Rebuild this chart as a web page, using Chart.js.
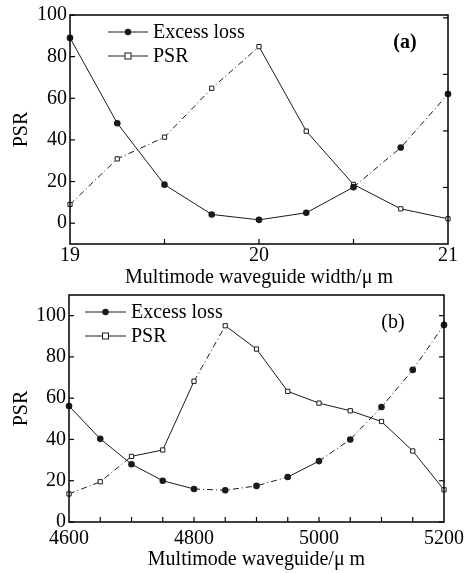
<!DOCTYPE html>
<html>
<head>
<meta charset="utf-8">
<script src="https://cdn.jsdelivr.net/npm/chart.js@4.4.1/dist/chart.umd.min.js"></script>
<style>
  html, body { margin: 0; padding: 0; background: #fff; }
  #wrap { position: relative; width: 469px; height: 573px; }
  .panel { position: absolute; left: 0; width: 469px; }
  #panelA { top: 0; height: 290px; }
  #panelB { top: 290px; height: 283px; }
</style>
</head>
<body>
<div id="wrap">
  <div class="panel" id="panelA"><canvas id="chartA"></canvas></div>
  <div class="panel" id="panelB"><canvas id="chartB"></canvas></div>
</div>
<script>
// ---- (a) multimode waveguide width sweep ----
const widthA = [19, 19.25, 19.5, 19.75, 20, 20.25, 20.5, 20.75, 21];
const lossA = [89, 48, 18.5, 4.2, 1.6, 5, 17.3, 36.3, 62];
const psrA = [9, 30.9, 41.3, 64.8, 84.8, 44.2, 18.6, 6.9, 2.1];
const xTicksA = [19, 20, 21];
const xMarksA = [19.5, 20, 20.5];
const yTicksA = [0, 20, 40, 60, 80, 100];
const rightMarksA = [1, 2, 3, 4];

// ---- (b) multimode waveguide length sweep ----
const lengthB = [4600, 4650, 4700, 4750, 4800, 4850, 4900, 4950, 5000, 5050, 5100, 5150, 5200];
const lossB = [56.2, 40.3, 28, 20, 16, 15.4, 17.5, 21.8, 29.5, 40, 55.7, 73.7, 95.5];
const psrB = [13.6, 19.5, 31.8, 34.9, 68.2, 95.1, 83.8, 63.3, 57.6, 53.9, 48.7, 34.4, 15.6];
const xTicksB = [4600, 4800, 5000, 5200];
const xMarksB = [4650, 4700, 4750, 4800, 4850, 4900, 4950, 5000, 5050, 5100, 5150];
const yTicksB = [0, 20, 40, 60, 80, 100];

const SERIF = "'Liberation Serif', 'Times New Roman', serif";
const INK = "#1a1a1a";
const dashDot = [6, 3, 1, 3];

Chart.defaults.color = "#000";
Chart.defaults.font.family = SERIF;

// segments drawn broken in the scan
const brokenLossA = [6, 7];
const brokenPsrA = [0, 1, 2, 3];
const brokenLossB = [4, 5, 6, 8, 9, 10, 11];
const brokenPsrB = [0, 1, 4];

const segDash = (idx) => ({
  borderDash: (ctx) => (idx.includes(ctx.p0DataIndex) ? dashDot : undefined),
});

const toXY = (xs, ys) => xs.map((x, i) => ({ x: x, y: ys[i] }));

// frame + inward tick marks + legend drawn inside the plot area
const framePlugin = {
  id: "frame",
  afterDraw(chart, args, opts) {
    const ctx = chart.ctx;
    const a = chart.chartArea;
    ctx.save();
    ctx.strokeStyle = "#000";
    ctx.lineWidth = 1.5;
    ctx.strokeRect(a.left, a.top, a.right - a.left, a.bottom - a.top);

    ctx.lineWidth = 1.2;
    (opts.marks || []).forEach((m) => {
      const s = chart.scales[m.axis];
      m.values.forEach((v) => {
        const p = s.getPixelForValue(v);
        ctx.beginPath();
        if (m.side === "bottom") {
          ctx.moveTo(p, a.bottom);
          ctx.lineTo(p, a.bottom - 5);
        } else if (m.side === "left") {
          ctx.moveTo(a.left, p);
          ctx.lineTo(a.left + 5, p);
        } else {
          ctx.moveTo(a.right, p);
          ctx.lineTo(a.right - 5, p);
        }
        ctx.stroke();
      });
    });

    // legend
    const lg = opts.legend;
    if (lg) {
      ctx.font = "20px " + SERIF;
      ctx.textBaseline = "middle";
      ctx.textAlign = "left";
      lg.items.forEach((it, i) => {
        const ds = chart.data.datasets[it.dataset];
        const y = lg.y + i * lg.gap;
        ctx.strokeStyle = INK;
        ctx.lineWidth = 1;
        ctx.beginPath();
        ctx.moveTo(lg.x, y);
        ctx.lineTo(lg.x + lg.len, y);
        ctx.stroke();
        const mx = lg.x + lg.len / 2;
        if (ds.pointStyle === "rect") {
          ctx.fillStyle = "#fff";
          ctx.fillRect(mx - 3, y - 3, 6, 6);
          ctx.strokeRect(mx - 3, y - 3, 6, 6);
        } else {
          ctx.fillStyle = INK;
          ctx.beginPath();
          ctx.arc(mx, y, 3.2, 0, Math.PI * 2);
          ctx.fill();
        }
        ctx.fillStyle = "#000";
        ctx.fillText(ds.label, lg.x + lg.len + 5, y + 1);
      });
    }

    if (opts.tag) {
      ctx.font = opts.tag.font + " " + SERIF;
      ctx.fillStyle = "#000";
      ctx.textAlign = "center";
      ctx.textBaseline = "middle";
      ctx.fillText(opts.tag.text, opts.tag.x, opts.tag.y);
    }
    ctx.restore();
  },
};

function lossSet(xs, ys, broken) {
  return {
    label: "Excess loss",
    data: toXY(xs, ys),
    borderColor: INK,
    borderWidth: 1,
    pointStyle: "circle",
    pointRadius: 3.3,
    pointBackgroundColor: INK,
    pointBorderColor: INK,
    pointBorderWidth: 0,
    segment: segDash(broken),
    clip: false,
  };
}

function psrSet(xs, ys, broken) {
  return {
    label: "PSR",
    data: toXY(xs, ys),
    borderColor: INK,
    borderWidth: 1,
    pointStyle: "rect",
    pointRadius: 3,
    pointBackgroundColor: "#fff",
    pointBorderColor: INK,
    pointBorderWidth: 1,
    segment: segDash(broken),
    clip: false,
  };
}

function buildChart(canvasId, cfg) {
  return new Chart(document.getElementById(canvasId), {
    type: "line",
    data: { datasets: cfg.datasets },
    plugins: [framePlugin],
    options: {
      responsive: true,
      maintainAspectRatio: false,
      animation: false,
      devicePixelRatio: 1,
      layout: { padding: { top: cfg.top, right: 21, bottom: 0, left: 0 } },
      plugins: {
        legend: { display: false },
        tooltip: { enabled: false },
        frame: cfg.frame,
      },
      scales: {
        x: {
          type: "linear",
          min: cfg.xMin,
          max: cfg.xMax,
          afterBuildTicks: (s) => { s.ticks = cfg.xTicks.map((v) => ({ value: v })); },
          afterFit: (s) => { s.height = cfg.xHeight; },
          grid: { display: false, drawTicks: false },
          border: { display: false },
          ticks: {
            font: { size: 20 },
            padding: cfg.xPad,
            maxRotation: 0,
            callback: (v) => String(v),
          },
          title: {
            display: true,
            text: cfg.xTitle,
            font: { size: 20 },
            padding: { top: 0, bottom: cfg.xTitlePad },
          },
        },
        y: {
          min: cfg.yMin,
          max: cfg.yMax,
          afterBuildTicks: (s) => { s.ticks = cfg.yTicks.map((v) => ({ value: v })); },
          afterFit: (s) => {
            s.width = cfg.yWidth;
            s.paddingTop = 0;
            s.paddingBottom = 0;
          },
          grid: { display: false, drawTicks: false },
          border: { display: false },
          ticks: { font: { size: 20 }, padding: 3, callback: (v) => String(v) },
          title: {
            display: true,
            text: "PSR",
            font: { size: 20 },
            padding: { top: 10, bottom: 0 },
          },
        },
        y2: {
          display: false,
          position: "right",
          min: 0,
          max: cfg.y2Max,
        },
      },
    },
  });
}

buildChart("chartA", {
  datasets: [lossSet(widthA, lossA, brokenLossA), psrSet(widthA, psrA, brokenPsrA)],
  top: 15,
  xMin: 19, xMax: 21, xTicks: xTicksA, xHeight: 46, xPad: 0, xTitlePad: 0,
  xTitle: "Multimode waveguide width/\u03bc m",
  yMin: -10, yMax: 100, yTicks: yTicksA, yWidth: 70,
  y2Max: 4.05,
  frame: {
    marks: [
      { axis: "x", side: "bottom", values: xMarksA },
      { axis: "y", side: "left", values: yTicksA },
      { axis: "y2", side: "right", values: rightMarksA },
    ],
    legend: { x: 108, y: 32, gap: 24, len: 40, items: [{ dataset: 0 }, { dataset: 1 }] },
    tag: { text: "(a)", x: 405, y: 43, font: "bold 20px" },
  },
});

buildChart("chartB", {
  datasets: [lossSet(lengthB, lossB, brokenLossB), psrSet(lengthB, psrB, brokenPsrB)],
  top: 5,
  xMin: 4600, xMax: 5200, xTicks: xTicksB, xHeight: 51, xPad: 5, xTitlePad: 1,
  xTitle: "Multimode waveguide/\u03bc m",
  yMin: 0, yMax: 110, yTicks: yTicksB, yWidth: 69,
  y2Max: 110,
  frame: {
    marks: [
      { axis: "x", side: "bottom", values: xMarksB },
      { axis: "y", side: "left", values: yTicksB },
      { axis: "y2", side: "right", values: yTicksB },
    ],
    legend: { x: 85, y: 22, gap: 24, len: 41, items: [{ dataset: 0 }, { dataset: 1 }] },
    tag: { text: "(b)", x: 393, y: 33, font: "20px" },
  },
});
</script>
</body>
</html>
